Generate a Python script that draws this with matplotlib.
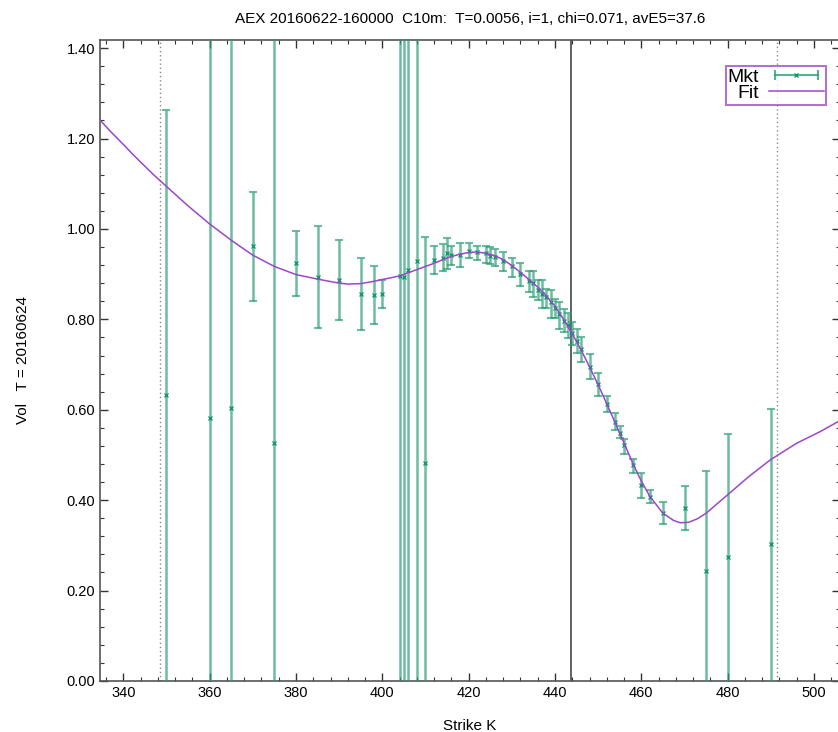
import numpy as np
import matplotlib
matplotlib.use("Agg")
import matplotlib.pyplot as plt
from matplotlib.lines import Line2D
from matplotlib.legend_handler import HandlerLine2D, HandlerTuple

plt.rcParams['font.family'] = ['Liberation Sans', 'DejaVu Sans']

C_MKT = "#2f9f78"
C_MKT_X = "#129a6c"
C_FIT = "#9a48c8"
C_AXIS = "#333333"

TITLE = "AEX 20160622-160000  C10m:  T=0.0056, i=1, chi=0.071, avE5=37.6"

# market quotes: strike, mid vol, lower and upper bound of the bid/ask range
strikes = [350, 360, 365, 370, 375, 380, 385, 390, 395, 398, 400,
           404, 405, 406, 408, 410, 412, 414, 415, 416, 418, 420,
           422, 424, 425, 426, 428, 430, 432, 434, 435, 436, 437,
           438, 439, 440, 441, 442, 443, 444, 445, 446, 448, 450,
           452, 454, 455, 456, 458, 460, 462, 465, 470, 475, 480, 490]
vol_mid = [0.632, 0.581, 0.603, 0.962, 0.527, 0.924, 0.893, 0.886, 0.856, 0.854, 0.856,
           0.896, 0.894, 0.909, 0.928, 0.482, 0.931, 0.935, 0.946, 0.942, 0.942, 0.952,
           0.950, 0.946, 0.940, 0.937, 0.930, 0.917, 0.901, 0.885, 0.880, 0.866, 0.857,
           0.850, 0.838, 0.826, 0.812, 0.797, 0.788, 0.769, 0.753, 0.734, 0.695, 0.657,
           0.612, 0.574, 0.549, 0.521, 0.477, 0.434, 0.408, 0.372, 0.383, 0.244, 0.274, 0.303]
vol_lo = [-0.40, -0.40, -0.40, 0.841, -0.40, 0.852, 0.781, 0.798, 0.777, 0.789, 0.824,
          -0.40, -0.40, -0.40, -0.40, -0.40, 0.900, 0.907, 0.911, 0.920, 0.915, 0.935,
          0.931, 0.925, 0.923, 0.917, 0.907, 0.893, 0.873, 0.860, 0.850, 0.843, 0.826,
          0.824, 0.804, 0.802, 0.779, 0.773, 0.758, 0.743, 0.726, 0.705, 0.668, 0.631,
          0.594, 0.555, 0.537, 0.502, 0.459, 0.404, 0.393, 0.347, 0.335, -0.40, -0.40, -0.40]
vol_hi = [1.262, 2.00, 2.00, 1.082, 2.00, 0.996, 1.006, 0.976, 0.936, 0.919, 0.887,
          2.00, 2.00, 2.00, 2.00, 0.983, 0.963, 0.966, 0.981, 0.962, 0.968, 0.968,
          0.963, 0.962, 0.960, 0.956, 0.948, 0.935, 0.924, 0.906, 0.907, 0.888, 0.888,
          0.868, 0.866, 0.844, 0.839, 0.822, 0.815, 0.795, 0.779, 0.762, 0.723, 0.682,
          0.631, 0.592, 0.563, 0.535, 0.491, 0.461, 0.423, 0.397, 0.431, 0.465, 0.546, 0.602]

# fitted smile
fit_k = [334.6, 337, 340, 342, 344, 347, 350, 355, 360, 365, 370, 375, 380, 385, 390, 392, 395,
         398, 400, 404, 408, 410, 412, 414, 416, 418, 420, 422, 424, 426, 428,
         430, 432, 434, 436, 438, 440, 442, 444, 446, 448, 450, 452, 454, 456,
         458, 460, 462, 465, 467.5, 469, 471, 473, 475, 480, 485, 490, 496,
         501.5, 506]
fit_vol = [1.241, 1.216, 1.187, 1.167, 1.148, 1.120, 1.094, 1.051, 1.011, 0.975, 0.942,
           0.917, 0.899, 0.889,
           0.880, 0.878, 0.879, 0.884, 0.888, 0.896, 0.910, 0.917, 0.924, 0.932, 0.939,
           0.944, 0.948, 0.949, 0.946, 0.941, 0.932, 0.919, 0.904, 0.888, 0.871, 0.852,
           0.829, 0.800, 0.768, 0.733, 0.695, 0.655, 0.613, 0.570, 0.526, 0.482, 0.442,
           0.408, 0.371, 0.355, 0.350, 0.351, 0.359, 0.371, 0.412, 0.453, 0.490, 0.526,
           0.552, 0.576]

# reference lines: dotted range limits and the spot/forward line
dotted_k = [348.4, 491.5]
spot_k = 443.7

fig = plt.figure(figsize=(8.38, 7.32), dpi=100, facecolor="white")
ax = fig.add_axes([0.1193, 0.0697, 0.8830, 0.8757])

mid = np.array(vol_mid)
yerr = [mid - np.array(vol_lo), np.array(vol_hi) - mid]

for k in dotted_k:
    ax.axvline(k, color="#888888", lw=1.0, ls=(0, (1, 2)), zorder=1)
ax.axvline(spot_k, color="#555555", lw=1.3, zorder=1)

ax.errorbar(strikes, vol_mid, yerr=yerr, fmt="none", ecolor=C_MKT,
            elinewidth=1.8, capsize=3.2, capthick=1.5, alpha=0.7, zorder=3)
ax.plot(strikes, vol_mid, ls="none", marker="x", ms=3, mew=1.0,
        color=C_MKT_X, zorder=4)
ax.plot(fit_k, fit_vol, color=C_FIT, lw=1.1, zorder=5)

ax.set_xlim(334.6, 506.0)
ax.set_ylim(0, 1.418)
ax.set_xticks(np.arange(340, 501, 20))
ax.set_xticks(np.arange(336, 506, 4), minor=True)
ax.set_yticks(np.arange(0, 1.41, 0.2))
ax.set_yticks(np.arange(0, 1.42, 0.04), minor=True)
ax.set_yticklabels([f"{v:.2f}" for v in np.arange(0, 1.41, 0.2)])
ax.tick_params(which="both", direction="in", top=True, right=True,
               colors=C_AXIS, labelcolor="black", labelsize=10.5)
ax.tick_params(which="major", length=6, width=1.0)
ax.tick_params(which="minor", length=3, width=0.8)
for s in ax.spines.values():
    s.set_color("#555555")
    s.set_linewidth(1.2)

ax.set_xlabel("Strike K", fontsize=11, labelpad=14)
ax.set_ylabel("Vol   T = 20160624", fontsize=11, labelpad=26)
ax.set_title(TITLE, fontsize=11, pad=12)

# legend in gnuplot style: label on the left, horizontal error bar sample
h_bar = Line2D([], [], color=C_MKT, lw=1.5, marker="|", ms=7, mew=1.5, alpha=0.8)
h_x = Line2D([], [], ls="none", color=C_MKT_X, marker="x", ms=3, mew=1.0)
h_fit = Line2D([], [], color=C_FIT, lw=1.1)
leg = ax.legend([(h_bar, h_x), h_fit], ["Mkt", "Fit"], loc="upper right",
                markerfirst=False, fontsize=14, frameon=True, fancybox=False,
                handlelength=2.8, handletextpad=0.5, borderpad=0.12,
                labelspacing=-0.05, borderaxespad=0.0,
                bbox_to_anchor=(0.981, 0.96),
                handler_map={h_bar: HandlerLine2D(numpoints=2),
                             h_x: HandlerLine2D(numpoints=1),
                             tuple: HandlerTuple(ndivide=1)})
leg.get_frame().set_edgecolor(C_FIT)
leg.get_frame().set_linewidth(1.4)

fig.savefig("out.png", dpi=100, facecolor="white")
